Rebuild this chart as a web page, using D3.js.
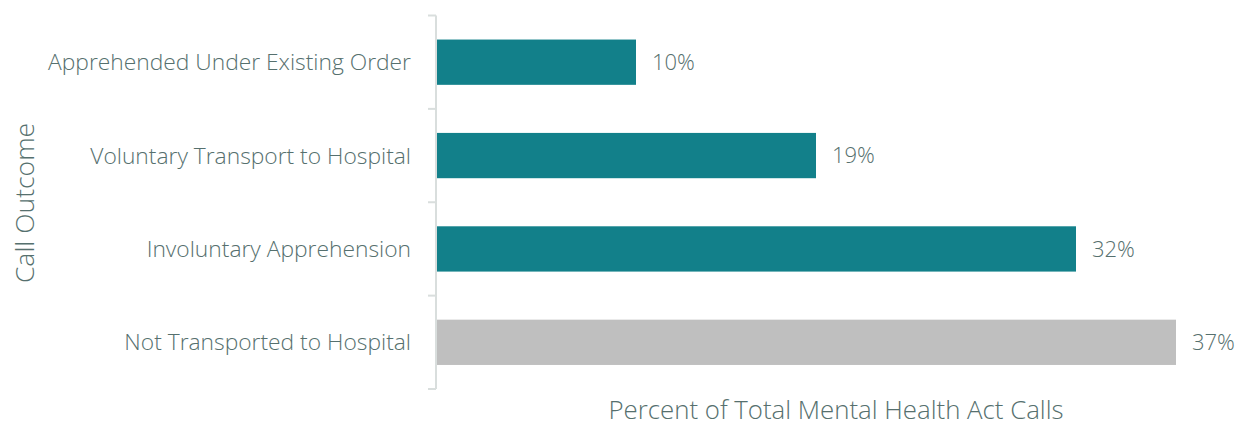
<!DOCTYPE html>
<html>
<head>
<meta charset="utf-8">
<script src="https://cdn.jsdelivr.net/npm/d3@7"></script>
<style>
  html, body { margin: 0; padding: 0; background: #ffffff; }
  svg { display: block; }
  text { font-family: "Open Sans", "Noto Sans", sans-serif; font-weight: 300; fill: #56706e; }
</style>
</head>
<body>
<svg id="chart" width="1238" height="423"></svg>
<script>
// Call outcomes for Mental Health Act calls, top to bottom
const categories = [
  "Apprehended Under Existing Order",
  "Voluntary Transport to Hospital",
  "Involuntary Apprehension",
  "Not Transported to Hospital"
];
const values = [10, 19, 32, 37];
const barColors = ["#12808a", "#12808a", "#12808a", "#bfbfbf"];
const xTitle = "Percent of Total Mental Health Act Calls";
const yTitle = "Call Outcome";

const svg = d3.select("#chart");
const plotLeft = 436, plotRight = 1176, plotTop = 15.5, plotBottom = 389;

const x = d3.scaleLinear().domain([0, 37]).range([plotLeft, plotRight]);
const y = d3.scaleBand().domain(categories).range([plotTop, plotBottom]).paddingInner(0.515).paddingOuter(0.2575);

// category axis with light outer ticks between bands
const axisColor = "#d9dedd";
svg.append("line")
  .attr("x1", plotLeft).attr("x2", plotLeft)
  .attr("y1", plotTop).attr("y2", plotBottom)
  .attr("stroke", axisColor).attr("stroke-width", 2);

const tickYs = d3.range(categories.length + 1).map(i => plotTop + i * (plotBottom - plotTop) / categories.length);
svg.selectAll("line.tick").data(tickYs).join("line")
  .attr("class", "tick")
  .attr("x1", plotLeft - 8).attr("x2", plotLeft)
  .attr("y1", d => d).attr("y2", d => d)
  .attr("stroke", axisColor).attr("stroke-width", 2);

// bars
svg.selectAll("rect.bar").data(values).join("rect")
  .attr("class", "bar")
  .attr("x", plotLeft + 1)
  .attr("y", (d, i) => y(categories[i]))
  .attr("width", d => x(d) - plotLeft - 1)
  .attr("height", y.bandwidth())
  .attr("fill", (d, i) => barColors[i]);

// category labels
svg.selectAll("text.cat").data(categories).join("text")
  .attr("class", "cat")
  .attr("x", 411)
  .attr("y", d => y(d) + y.bandwidth() / 2)
  .attr("dy", "0.35em")
  .attr("text-anchor", "end")
  .attr("font-size", 22.8)
  .text(d => d);

// value labels
svg.selectAll("text.val").data(values).join("text")
  .attr("class", "val")
  .attr("x", d => x(d) + 16)
  .attr("y", (d, i) => y(categories[i]) + y.bandwidth() / 2)
  .attr("dy", "0.35em")
  .attr("font-size", 22)
  .text(d => d + "%");

// axis titles
svg.append("text")
  .attr("x", 836).attr("y", 419)
  .attr("text-anchor", "middle")
  .attr("font-size", 25.8)
  .text(xTitle);

svg.append("text")
  .attr("transform", "translate(34,203) rotate(-90)")
  .attr("text-anchor", "middle")
  .attr("font-size", 26.5)
  .text(yTitle);
</script>
</body>
</html>
